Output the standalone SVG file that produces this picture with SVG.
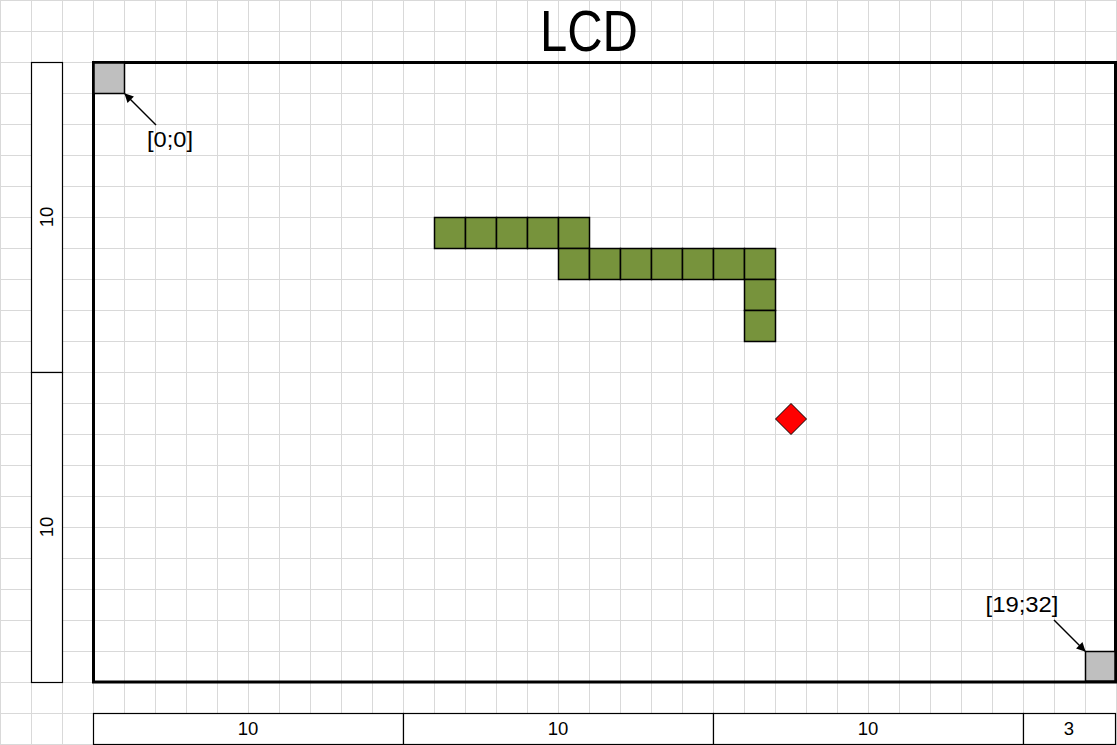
<svg xmlns="http://www.w3.org/2000/svg" width="1117" height="745" viewBox="0 0 1117 745">
<style>
.grid{stroke:#d9d9d9;stroke-width:1;fill:none}
.bar{fill:#fff;stroke:#000;stroke-width:1.2}
.cell{fill:#77933c;stroke:#000;stroke-width:1.5}
.corner{fill:#bfbfbf;stroke:#000;stroke-width:1.5}
.lbl{font-family:"Liberation Sans",Arial,sans-serif;font-size:18.5px;fill:#000;text-anchor:middle}
.coord{font-family:"Liberation Sans",Arial,sans-serif;font-size:22px;fill:#000;text-anchor:middle}
.conn{stroke:#000;stroke-width:1.5;fill:none;marker-end:url(#ah)}
</style>
<defs>
<marker id="ah" viewBox="0 0 10 10" refX="9" refY="5" markerWidth="10" markerHeight="9" orient="auto" markerUnits="userSpaceOnUse">
<path d="M0,0 L10,5 L0,10 z" fill="#000"/>
</marker>
<pattern id="gp" width="31" height="31" patternUnits="userSpaceOnUse" x="0" y="0">
<path d="M0.5,0 V31 M0,0.5 H31" class="grid"/>
</pattern>
</defs>
<rect width="1117" height="745" fill="#fff"/>
<rect width="1117" height="745" fill="url(#gp)"/>
<text x="589" y="51" font-family="'Liberation Sans',Arial,sans-serif" font-size="57" text-anchor="middle" textLength="98" lengthAdjust="spacingAndGlyphs">LCD</text>
<g id="lcd">
<rect x="93.5" y="62.5" width="1022" height="619.5" fill="none" stroke="#000" stroke-width="3"/>
</g>
<g id="origin">
<rect class="corner" x="94" y="63" width="30.5" height="30.5"/>
<text class="coord" x="170" y="147" textLength="46" lengthAdjust="spacingAndGlyphs">[0;0]</text>
</g>
<g id="end">
<rect class="corner" x="1085.5" y="651.5" width="29.5" height="29.5"/>
<text class="coord" x="1022" y="612" textLength="73" lengthAdjust="spacingAndGlyphs">[19;32]</text>
</g>
<g id="snake">
<rect class="cell" x="434.5" y="217.5" width="31" height="31"/>
<rect class="cell" x="465.5" y="217.5" width="31" height="31"/>
<rect class="cell" x="496.5" y="217.5" width="31" height="31"/>
<rect class="cell" x="527.5" y="217.5" width="31" height="31"/>
<rect class="cell" x="558.5" y="217.5" width="31" height="31"/>
<rect class="cell" x="558.5" y="248.5" width="31" height="31"/>
<rect class="cell" x="589.5" y="248.5" width="31" height="31"/>
<rect class="cell" x="620.5" y="248.5" width="31" height="31"/>
<rect class="cell" x="651.5" y="248.5" width="31" height="31"/>
<rect class="cell" x="682.5" y="248.5" width="31" height="31"/>
<rect class="cell" x="713.5" y="248.5" width="31" height="31"/>
<rect class="cell" x="744.5" y="248.5" width="31" height="31"/>
<rect class="cell" x="744.5" y="279.5" width="31" height="31"/>
<rect class="cell" x="744.5" y="310.5" width="31" height="31"/>
</g>
<g id="food">
<polygon points="791,403.5 806.5,419 791,434.5 775.5,419" fill="#ff0000" stroke="#000" stroke-width="1"/>
</g>
<g id="left-scale">
<rect class="bar" x="31.5" y="62.5" width="31" height="310"/>
<rect class="bar" x="31.5" y="372.5" width="31" height="310"/>
<text class="lbl" transform="translate(53,217) rotate(-90)" x="0" y="0">10</text>
<text class="lbl" transform="translate(53,527) rotate(-90)" x="0" y="0">10</text>
</g>
<g id="bottom-scale">
<rect class="bar" x="93.5" y="713.5" width="310" height="31"/>
<rect class="bar" x="403.5" y="713.5" width="310" height="31"/>
<rect class="bar" x="713.5" y="713.5" width="310" height="31"/>
<rect class="bar" x="1023.5" y="713.5" width="92" height="31"/>
<text class="lbl" x="248" y="735">10</text>
<text class="lbl" x="558" y="735">10</text>
<text class="lbl" x="868" y="735">10</text>
<text class="lbl" x="1069" y="735">3</text>
</g>
<g id="connectors">
<line class="conn" x1="156" y1="125" x2="125" y2="94"/>
<line class="conn" x1="1054" y1="620" x2="1085" y2="651"/>
</g>
</svg>
